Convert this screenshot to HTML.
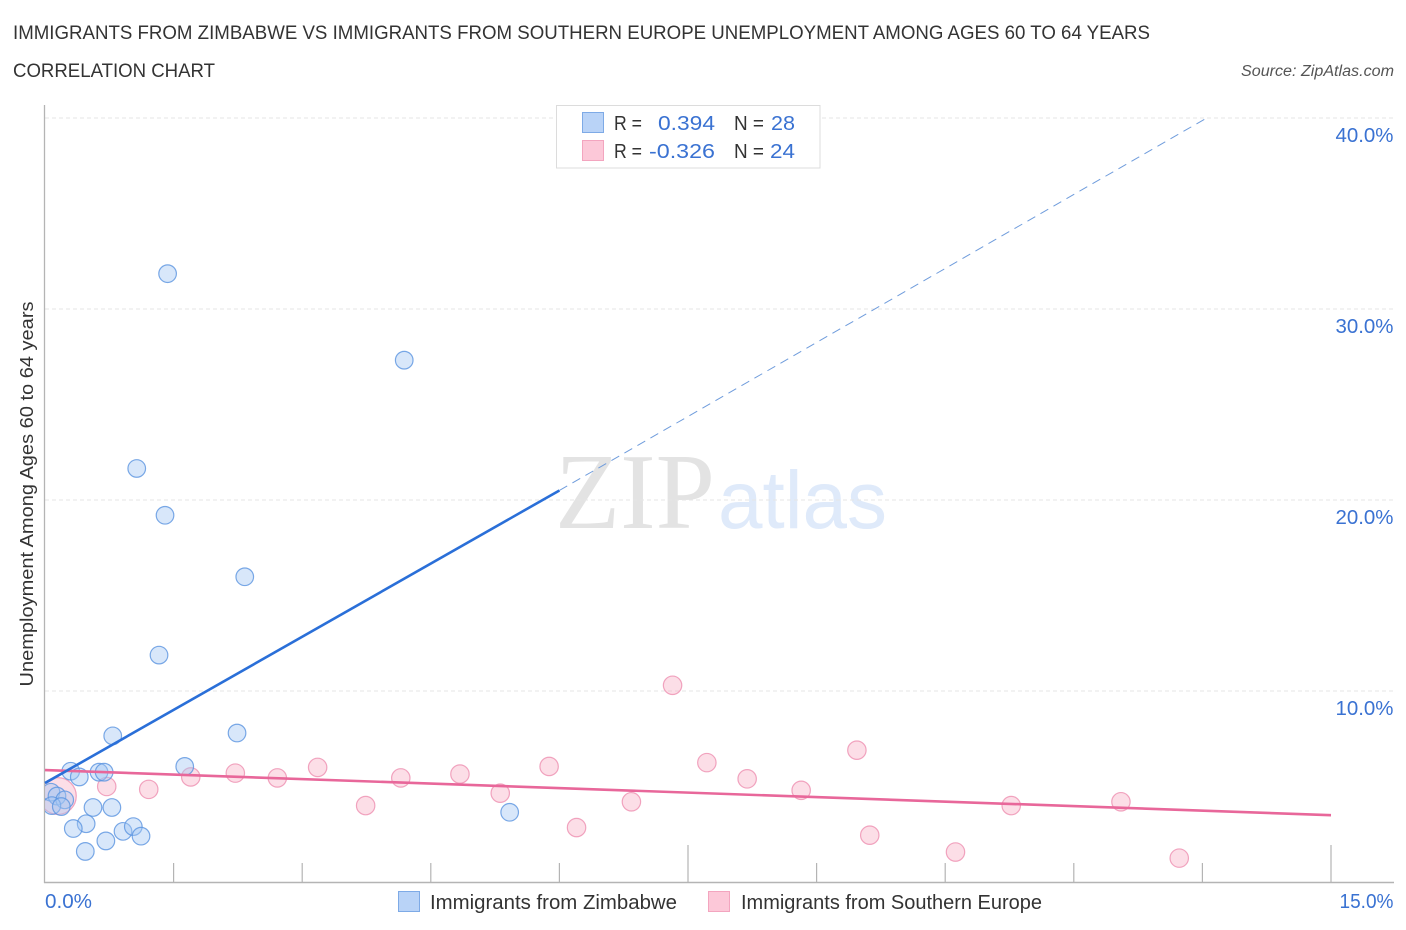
<!DOCTYPE html>
<html>
<head>
<meta charset="utf-8">
<style>
html,body{margin:0;padding:0;background:#fff;width:1406px;height:930px;overflow:hidden}
svg{display:block;font-family:"Liberation Sans",sans-serif}
</style>
</head>
<body>
<svg id="chart" width="1406" height="930" viewBox="0 0 1406 930" xmlns="http://www.w3.org/2000/svg">
  <defs><clipPath id="plot-clip"><rect x="45" y="100" width="1349" height="782"/></clipPath></defs>
  <text x="13" y="39" font-size="19.5" fill="#333" textLength="1137" lengthAdjust="spacingAndGlyphs">IMMIGRANTS FROM ZIMBABWE VS IMMIGRANTS FROM SOUTHERN EUROPE UNEMPLOYMENT AMONG AGES 60 TO 64 YEARS</text>
  <text x="13" y="77" font-size="19.5" fill="#333" textLength="202" lengthAdjust="spacingAndGlyphs">CORRELATION CHART</text>
  <text x="1394" y="76" font-size="15.5" font-style="italic" fill="#555" text-anchor="end" textLength="153" lengthAdjust="spacingAndGlyphs">Source: ZipAtlas.com</text>

  <g>
    <text x="555" y="528" font-family="'Liberation Serif',serif" font-size="108" fill="#e3e3e3" textLength="160" lengthAdjust="spacingAndGlyphs">ZIP</text>
    <text x="718" y="528" font-size="82" fill="#dfeafa" textLength="169" lengthAdjust="spacingAndGlyphs">atlas</text>
  </g>

  <g id="grid"></g>
  <g id="axes"></g>
  <g id="marks" clip-path="url(#plot-clip)"></g>
  <g id="trends"></g>

  <text transform="translate(33,494) rotate(-90)" font-size="18.5" fill="#333" text-anchor="middle" textLength="385" lengthAdjust="spacingAndGlyphs">Unemployment Among Ages 60 to 64 years</text>

  <g>
    <rect x="556.5" y="105.5" width="263.5" height="62.5" fill="#fff" stroke="#dcdcdc" stroke-width="1"/>
    <rect x="582.5" y="112.5" width="21" height="20" fill="#b9d3f7" stroke="#7eaae6"/>
    <rect x="582.5" y="140.5" width="21" height="20" fill="#fcc8d8" stroke="#f3a5bf"/>
    <g font-size="20.5">
      <text x="614" y="130" fill="#333" textLength="28" lengthAdjust="spacingAndGlyphs">R =</text>
      <text x="658" y="130" fill="#3a72d2" textLength="57" lengthAdjust="spacingAndGlyphs">0.394</text>
      <text x="734" y="130" fill="#333" textLength="30" lengthAdjust="spacingAndGlyphs">N =</text>
      <text x="771" y="130" fill="#3a72d2" textLength="24" lengthAdjust="spacingAndGlyphs">28</text>
      <text x="614" y="158" fill="#333" textLength="28" lengthAdjust="spacingAndGlyphs">R =</text>
      <text x="649" y="158" fill="#3a72d2" textLength="66" lengthAdjust="spacingAndGlyphs">-0.326</text>
      <text x="734" y="158" fill="#333" textLength="30" lengthAdjust="spacingAndGlyphs">N =</text>
      <text x="770" y="158" fill="#3a72d2" textLength="25" lengthAdjust="spacingAndGlyphs">24</text>
    </g>
  </g>

  <g>
    <g>
      <rect x="398.5" y="891.5" width="21" height="20" fill="#b9d3f7" stroke="#7eaae6"/>
      <text x="430" y="909" font-size="20" fill="#333" textLength="247" lengthAdjust="spacingAndGlyphs">Immigrants from Zimbabwe</text>
    </g>
    <g>
      <rect x="708.5" y="891.5" width="21" height="20" fill="#fcc8d8" stroke="#f3a5bf"/>
      <text x="741" y="909" font-size="20" fill="#333" textLength="301" lengthAdjust="spacingAndGlyphs">Immigrants from Southern Europe</text>
    </g>
  </g>
</svg>
<script>
const yTicks = [10, 20, 30, 40];
const yTickLabels = ["10.0%", "20.0%", "30.0%", "40.0%"];
const xTicks = [1.5, 3, 4.5, 6, 7.5, 9, 10.5, 12, 13.5, 15];
const xMajorTicks = [7.5, 15];
const xEndLabels = ["0.0%", "15.0%"];

const blueX = [1.43, 4.19, 1.07, 1.40, 2.33, 1.33, 2.24, 0.79, 1.63, 0.30, 0.40, 0.63, 0.69, 0.07, 0.14, 0.23, 0.08, 0.19, 0.56, 0.78, 0.48, 0.33, 0.91, 1.03, 1.12, 0.71, 0.47, 5.42];
const blueY = [31.85, 27.32, 21.65, 19.2, 15.98, 11.88, 7.8, 7.65, 6.05, 5.8, 5.5, 5.75, 5.75, 4.7, 4.5, 4.3, 4.0, 3.95, 3.9, 3.9, 3.05, 2.8, 2.65, 2.9, 2.4, 2.15, 1.6, 3.65];

const pinkX = [7.32, 9.47, 7.72, 5.88, 3.18, 2.22, 1.70, 2.71, 4.15, 4.84, 8.19, 0.72, 1.21, 5.31, 8.82, 6.84, 3.74, 11.27, 12.55, 6.20, 9.62, 10.62, 13.23, 0.15];
const pinkY = [10.3, 6.9, 6.25, 6.05, 6.0, 5.7, 5.5, 5.45, 5.45, 5.65, 5.4, 5.0, 4.85, 4.65, 4.8, 4.2, 4.0, 4.0, 4.2, 2.85, 2.45, 1.57, 1.25, 4.5];
const pinkWeight = [1, 1, 1, 1, 1, 1, 1, 1, 1, 1, 1, 1, 1, 1, 1, 1, 1, 1, 1, 1, 1, 1, 1, 4];

const blueTrendSolidX = [0, 6.0];
const blueTrendSolidY = [5.18, 20.5];
const blueTrendDashX = [6.0, 13.55];
const blueTrendDashY = [20.5, 40];
const pinkTrendX = [0, 15];
const pinkTrendY = [5.86, 3.5];

const NS = 'http://www.w3.org/2000/svg';
const xScale = v => 45 + v * (1331 - 45) / 15;
const yScale = v => 882 - v * 19.1;
const rScale = w => 9.2 * Math.sqrt(w);

function mk(parent, tag, attrs) {
  const el = document.createElementNS(NS, tag);
  for (const k in attrs) el.setAttribute(k, attrs[k]);
  parent.appendChild(el);
  return el;
}

const grid = document.getElementById('grid');
const axes = document.getElementById('axes');
const marks = document.getElementById('marks');
const trends = document.getElementById('trends');

yTicks.forEach((t, i) => {
  const line = mk(grid, 'line', {x1: 45, x2: 1394, y1: yScale(t), y2: yScale(t), stroke: '#e6e6e6', 'stroke-width': 1, 'stroke-dasharray': '4 3'});
  
  
  const label = mk(axes, 'text', {x: 1393.5, y: yScale(t) + 23.8, 'text-anchor': 'end', 'font-size': 20.5, fill: '#3a72d2', textLength: 58, lengthAdjust: 'spacingAndGlyphs'});
  label.textContent = yTickLabels[i];
  
  
});

const yAxis = mk(axes, 'line', {x1: 44.5, x2: 44.5, y1: 105, y2: 883, stroke: '#b4b4b4', 'stroke-width': 1.3});


const xAxis = mk(axes, 'line', {x1: 44, x2: 1394, y1: 882.5, y2: 882.5, stroke: '#b4b4b4', 'stroke-width': 1.5});



xTicks.forEach(t => {
  const top = xMajorTicks.includes(t) ? 845 : 863;
  const tick = mk(axes, 'line', {x1: xScale(t), x2: xScale(t), y1: top, y2: 882, stroke: '#b4b4b4', 'stroke-width': 1.2});
  
  
});

const xLeft = mk(axes, 'text', {x: 45, y: 908, 'font-size': 20.5, fill: '#3a72d2', textLength: 47, lengthAdjust: 'spacingAndGlyphs'});
xLeft.textContent = xEndLabels[0];


const xRight = mk(axes, 'text', {x: 1393.5, y: 908, 'text-anchor': 'end', 'font-size': 20.5, fill: '#3a72d2', textLength: 54, lengthAdjust: 'spacingAndGlyphs'});
xRight.textContent = xEndLabels[1];



pinkX.forEach((v, i) => {
  const c = mk(marks, 'circle', {cx: xScale(v), cy: yScale(pinkY[i]), r: rScale(pinkWeight[i]), fill: '#f8a9c1', 'fill-opacity': 0.38, stroke: '#ee8fb0', 'stroke-opacity': 0.8, 'stroke-width': 1.2});
  
  
});
blueX.forEach((v, i) => {
  const c = mk(marks, 'circle', {cx: xScale(v), cy: yScale(blueY[i]), r: 8.8, fill: '#a3c6f2', 'fill-opacity': 0.42, stroke: '#5a94e0', 'stroke-opacity': 0.8, 'stroke-width': 1.2});
  
  
});

const pinkLine = mk(trends, 'line', {x1: xScale(pinkTrendX[0]), y1: yScale(pinkTrendY[0]), x2: xScale(pinkTrendX[1]), y2: yScale(pinkTrendY[1]), stroke: '#e8679a', 'stroke-width': 2.6});


const blueLine = mk(trends, 'line', {x1: xScale(blueTrendSolidX[0]), y1: yScale(blueTrendSolidY[0]), x2: xScale(blueTrendSolidX[1]), y2: yScale(blueTrendSolidY[1]), stroke: '#2a6fd8', 'stroke-width': 2.6});


const blueDash = mk(trends, 'line', {x1: xScale(blueTrendDashX[0]), y1: yScale(blueTrendDashY[0]), x2: xScale(blueTrendDashX[1]), y2: yScale(blueTrendDashY[1]), stroke: '#6f9cdc', 'stroke-width': 1, 'stroke-dasharray': '9 6'});


</script>
</body>
</html>
